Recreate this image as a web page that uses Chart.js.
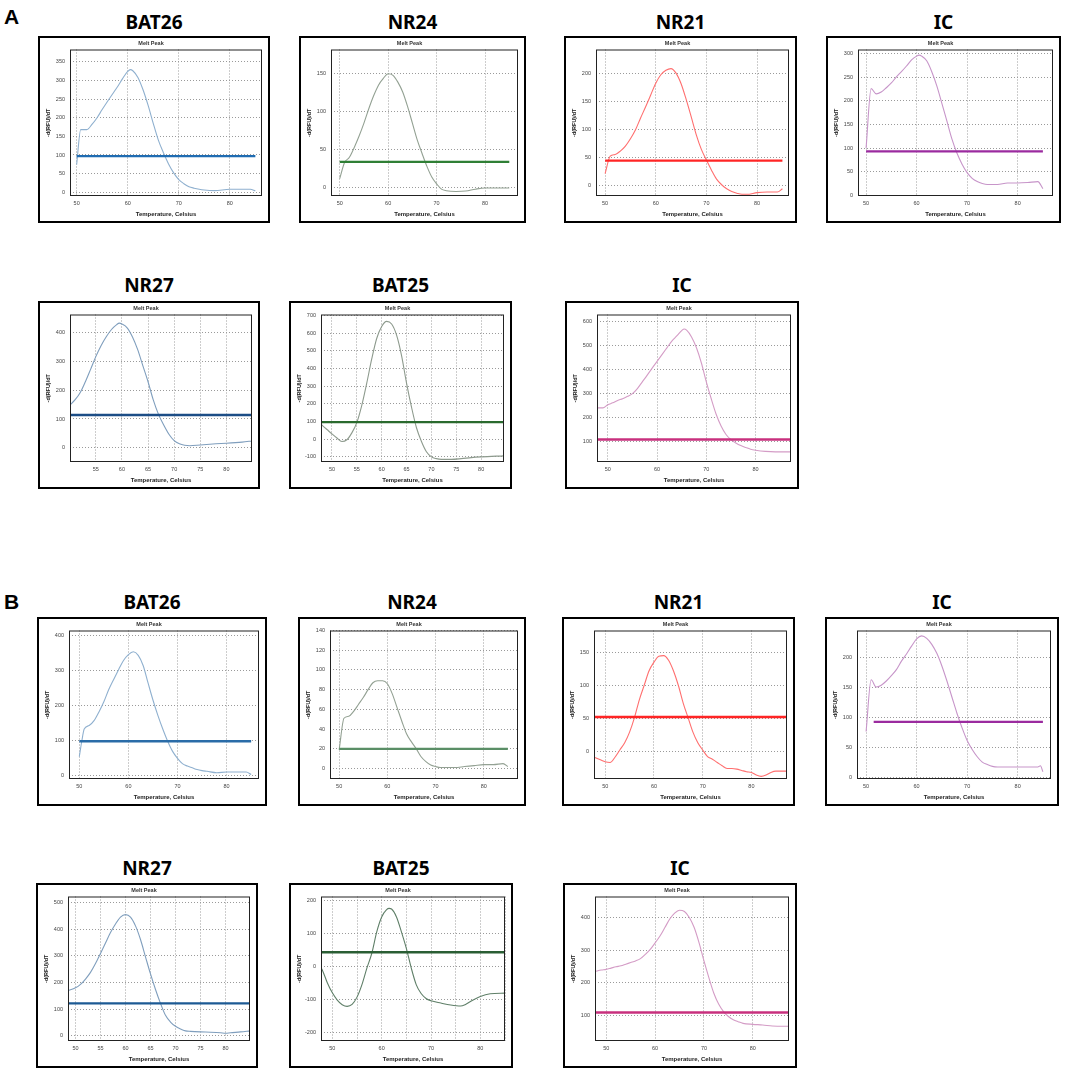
<!DOCTYPE html>
<html>
<head>
<meta charset="utf-8">
<script src="https://cdn.jsdelivr.net/npm/chart.js@4.4.1/dist/chart.umd.min.js"></script>
<style>
body { margin: 0; background: #fff; width: 1065px; height: 1075px; position: relative; overflow: hidden; }
.letra { position: absolute; font: bold 21px "Liberation Sans", Arial, sans-serif; line-height: 1; }
.titulo { position: absolute; font: bold 19px "Noto Sans", sans-serif; line-height: 1; transform: translate(-50%, -50%); white-space: nowrap; }
.caja { position: absolute; border: 2px solid #000; box-sizing: border-box; background: #fff; }
.caja canvas { display: block; }
</style>
</head>
<body>
<div class="letra" style="left:4px;top:6px">A</div>
<div class="letra" style="left:4px;top:591px">B</div>
<script>
// A - fila 1
const aBat26T = [50, 50.8, 52, 53, 54, 55, 56, 57, 58, 59, 60, 60.5, 61, 62, 63, 64, 65, 66, 67, 68, 69, 70, 71, 72, 73, 74, 75, 77, 80, 84, 85];
const aBat26V = [74, 168, 168, 182, 200, 222, 243, 263, 283, 305, 324, 329, 326, 308, 275, 233, 185, 140, 106, 76, 52, 34, 23, 15, 11, 8, 6, 4.5, 8, 8, 4];
const aBat26Umbral = 97;

const aNr24T = [50, 51, 52, 53, 54, 55, 56, 57, 58, 59, 60, 61, 62, 63, 64, 65, 66, 67, 68, 69, 70, 71, 72, 74, 76, 78, 80, 85];
const aNr24V = [12, 33, 40, 53, 68, 85, 104, 121, 135, 144, 150, 148, 139, 126, 107, 85, 63, 45, 28, 14, 5, -2, -4, -5, -4.5, -2, -0.5, -0.5];
const aNr24Umbral = 34;

const aNr21T = [50, 51, 52, 53, 54, 55, 56, 57, 58, 59, 60, 61, 62, 63, 64, 65, 66, 67, 68, 69, 70, 71, 72, 73, 74, 75, 76, 77, 78, 80, 82, 84, 85];
const aNr21V = [21, 52, 55, 61, 70, 83, 99, 120, 140, 161, 182, 197, 205, 208, 200, 181, 153, 122, 90, 64, 45, 27, 11, 1, -6, -11, -14, -16, -16, -13, -12, -12, -6];
const aNr21Umbral = 44;

const aIc1T = [50, 51, 52, 53, 54, 55, 56, 57, 58, 59, 60, 60.5, 61, 62, 63, 64, 65, 66, 67, 68, 69, 70, 71, 72, 73, 74, 76, 78, 80, 82, 84, 85];
const aIc1V = [100, 226, 215, 219, 228, 238, 251, 262, 274, 287, 295, 297, 295, 285, 262, 232, 195, 157, 119, 89, 66, 48, 36, 29, 25, 23, 23, 26, 26, 27, 29, 14];
const aIc1Umbral = 93;

// A - fila 2
const aNr27T = [50, 51, 52, 53, 54, 55, 56, 57, 58, 59, 59.5, 60, 61, 62, 63, 64, 65, 66, 67, 68, 69, 70, 71, 72, 73, 75, 78, 80, 83, 85];
const aNr27V = [147, 166, 191, 229, 272, 316, 354, 385, 410, 427, 432, 429, 416, 385, 341, 285, 229, 166, 116, 79, 47, 25, 14, 9, 7.5, 10, 14, 16, 20, 24];
const aNr27Umbral = 114;

const aBat25T = [47.8, 49, 50, 51, 52, 53, 54, 55, 56, 57, 58, 59, 60, 61, 62, 63, 64, 65, 66, 67, 68, 69, 70, 71, 72, 74, 76, 78, 80, 84.6];
const aBat25V = [84, 54, 29, 6, -14, -4, 35, 93, 191, 317, 454, 570, 638, 667, 652, 589, 473, 317, 181, 64, -14, -72, -101, -111, -115, -115, -111, -105, -101, -95];
const aBat25Umbral = 96;

const aIc2T = [47.8, 49, 50, 51, 52, 53, 54, 55, 56, 57, 58, 59, 60, 61, 62, 63, 64, 65, 65.5, 66, 67, 68, 69, 70, 71, 72, 73, 74, 75, 76, 77, 78, 79, 80, 82, 84, 87.2];
const aIc2V = [241, 241, 254, 262, 272, 279, 289, 300, 321, 349, 377, 406, 434, 462, 490, 518, 539, 561, 568, 563, 535, 490, 427, 349, 279, 215, 166, 131, 110, 96, 85, 77, 70, 66, 61, 59, 59];
const aIc2Umbral = 110;

// B - fila 1
const bBat26T = [50, 50.5, 51, 52, 53, 54, 55, 56, 57, 58, 59, 60, 61, 62, 63, 64, 65, 66, 67, 68, 69, 70, 71, 72, 73, 74, 75, 76, 78, 80, 82, 84, 85];
const bBat26V = [54, 98, 133, 143, 157, 182, 211, 246, 275, 303, 329, 346, 354, 344, 315, 265, 216, 172, 133, 98, 69, 49, 34, 27, 22, 17, 14, 12, 8, 10, 10, 10, 3];
const bBat26Umbral = 98;

const bNr24T = [50, 51, 52, 53, 54, 55, 56, 57, 58, 59, 60, 61, 62, 63, 64, 65, 66, 67, 68, 69, 70, 71, 72, 74, 76, 78, 80, 82, 84, 85];
const bNr24V = [19, 51, 53, 58, 65, 72, 80, 87, 89, 89, 86, 76, 62, 48, 35, 27, 20, 12, 7, 3.5, 2, 1, 1, 1, 2, 3, 4, 4, 5, 2];
const bNr24Umbral = 20;

const bNr21T = [47.7, 49, 50, 51, 52, 53, 54, 55, 56, 57, 58, 59, 60, 61, 62, 63, 64, 65, 66, 67, 68, 69, 70, 71, 72, 73, 74, 75, 76, 77, 78, 79, 80, 81, 82, 83, 84, 85, 87.3];
const bNr21V = [-8, -12, -15, -16, -8, 3, 14, 30, 52, 79, 101, 123, 136, 145, 146, 139, 123, 101, 74, 52, 30, 14, 3, -7, -11, -16, -21, -25, -25, -26, -28, -30, -31, -35, -37, -35, -31, -29, -29];
const bNr21Umbral = 53;

const bIc1T = [50, 51, 52, 53, 54, 55, 56, 57, 58, 59, 60, 61, 62, 63, 64, 65, 66, 67, 68, 69, 70, 71, 72, 73, 74, 75, 76, 80, 84, 84.5, 85];
const bIc1V = [77, 163, 151, 154, 161, 170, 180, 194, 206, 219, 231, 236, 232, 222, 207, 186, 161, 134, 107, 83, 62, 47, 35, 26, 22, 19, 18, 18, 18, 20, 10];
const bIc1Umbral = 93;

// B - fila 2
const bNr27T = [48.5, 50, 51, 52, 53, 54, 55, 56, 57, 58, 59, 60, 61, 62, 63, 64, 65, 66, 67, 68, 69, 70, 71, 72, 73, 75, 77, 79, 80, 81, 83, 84.9];
const bNr27V = [170, 180, 193, 213, 238, 271, 309, 348, 387, 419, 445, 454, 445, 412, 361, 296, 232, 174, 122, 77, 52, 36, 26, 19, 17, 15, 14, 12, 10, 12, 15, 19];
const bNr27Umbral = 122;

const bBat25T = [47.7, 48, 49, 50, 51, 52, 53, 54, 55, 56, 57, 58, 59, 60, 61, 61.5, 62, 63, 64, 65, 66, 67, 68, 69, 70, 72, 74, 76, 77, 78, 80, 82, 85];
const bBat25V = [-4, -12, -50, -80, -102, -116, -121, -115, -93, -55, -5, 40, 105, 150, 172, 176, 174, 150, 105, 55, -5, -55, -82, -97, -104, -111, -117, -120, -115, -106, -91, -83, -81];
const bBat25Umbral = 43;

const bIc2T = [47.7, 49, 50, 51, 52, 53, 54, 55, 56, 57, 58, 59, 60, 61, 62, 63, 64, 65, 66, 67, 68, 69, 70, 71, 72, 73, 74, 75, 76, 77, 78, 80, 82, 84, 86, 87.4];
const bIc2V = [235, 239, 241, 245, 249, 252, 257, 262, 267, 274, 287, 302, 322, 343, 369, 395, 413, 422, 418, 400, 369, 322, 267, 216, 169, 135, 112, 97, 87, 81, 76, 73, 71, 68, 67, 67];
const bIc2Umbral = 109;

// ejes: [min, max, paso]; xEtiq = etiquetas solo cada tantos grados
const graficas = [
  { nombre: 'BAT26', t: aBat26T, v: aBat26V, umbral: aBat26Umbral, desde: 50, hasta: 85, x: [48.7, 86.3, 10], y: [-10, 383, 50], curva: '#8fb0cf', linea: '#1f6cb2', caja: [38, 36, 232, 187], ty: 22 },
  { nombre: 'NR24', t: aNr24T, v: aNr24V, umbral: aNr24Umbral, desde: 50, hasta: 85, x: [48.2, 86.8, 10], y: [-11, 182, 50], curva: '#93a193', linea: '#2f7f35', caja: [299, 36, 227, 187], ty: 22 },
  { nombre: 'NR21', t: aNr21T, v: aNr21V, umbral: aNr21Umbral, desde: 50, hasta: 85, x: [48.2, 86.3, 10], y: [-19, 242, 50], curva: '#ff6f6f', linea: '#ff2525', caja: [564, 36, 233, 187], ty: 22 },
  { nombre: 'IC', t: aIc1T, v: aIc1V, umbral: aIc1Umbral, desde: 50, hasta: 85, x: [48.4, 87, 10], y: [-1.5, 309, 50], curva: '#c795c9', linea: '#9b2b9f', caja: [826, 36, 235, 187], ty: 22 },
  { nombre: 'NR27', t: aNr27T, v: aNr27V, umbral: aNr27Umbral, desde: 50, hasta: 84.9, x: [50.06, 84.9, 5], y: [-49, 462, 100], curva: '#7f9ebd', linea: '#1c4d86', caja: [38, 301, 222, 188], ty: 285 },
  { nombre: 'BAT25', t: aBat25T, v: aBat25V, umbral: aBat25Umbral, desde: 47.8, hasta: 84.6, x: [47.8, 84.6, 5], y: [-130, 706, 100], curva: '#8d9a8d', linea: '#2a6a2e', caja: [289, 301, 223, 188], ty: 285 },
  { nombre: 'IC', t: aIc2T, v: aIc2V, umbral: aIc2Umbral, desde: 47.8, hasta: 87.2, x: [47.8, 87.2, 10], y: [17, 628, 100], curva: '#d49cc6', linea: '#c8307e', caja: [565, 301, 234, 188], ty: 285 },
  { nombre: 'BAT26', t: bBat26T, v: bBat26V, umbral: bBat26Umbral, desde: 50, hasta: 85, x: [47.9, 86.6, 10], y: [-10, 415, 100], curva: '#8fb0cf', linea: '#2a6ca8', caja: [37, 617, 230, 189], ty: 602 },
  { nombre: 'NR24', t: bNr24T, v: bNr24V, umbral: bNr24Umbral, desde: 50, hasta: 85, x: [48.1, 87.1, 10], y: [-10.6, 140, 20], curva: '#93a193', linea: '#5a8e66', caja: [298, 617, 228, 189], ty: 602 },
  { nombre: 'NR21', t: bNr21T, v: bNr21V, umbral: bNr21Umbral, desde: 47.7, hasta: 87.3, x: [47.7, 87.3, 10], y: [-41, 184, 50], curva: '#ff6f6f', linea: '#ff2525', caja: [562, 617, 233, 189], ty: 602 },
  { nombre: 'IC', t: bIc1T, v: bIc1V, umbral: bIc1Umbral, desde: 51.5, hasta: 85, x: [48.2, 86.6, 10], y: [-2, 245, 50], curva: '#c795c9', linea: '#9b2b9f', caja: [825, 617, 234, 189], ty: 602 },
  { nombre: 'NR27', t: bNr27T, v: bNr27V, umbral: bNr27Umbral, desde: 48.5, hasta: 84.9, x: [48.5, 84.9, 5], y: [-19, 522, 100], curva: '#7f9ebd', linea: '#1c5a94', caja: [36, 883, 222, 185], ty: 868 },
  { nombre: 'BAT25', t: bBat25T, v: bBat25V, umbral: bBat25Umbral, desde: 47.7, hasta: 85, x: [47.7, 85, 5], y: [-226, 212, 100], curva: '#5f7f68', linea: '#2a5e34', caja: [289, 883, 224, 185], ty: 868, xEtiq: 10 },
  { nombre: 'IC', t: bIc2T, v: bIc2V, umbral: bIc2Umbral, desde: 47.7, hasta: 87.4, x: [47.7, 87.4, 10], y: [22, 464, 100], curva: '#d49cc6', linea: '#c8307e', caja: [563, 883, 234, 185], ty: 868 }
];

Chart.defaults.font.family = '"Liberation Sans", Arial, sans-serif';

// marco negro alrededor del area de datos
const marco = {
  id: 'marco',
  afterDraw(chart) {
    const a = chart.chartArea, ctx = chart.ctx;
    ctx.save();
    ctx.strokeStyle = '#222';
    ctx.lineWidth = 1;
    ctx.strokeRect(a.left + 0.5, a.top + 0.5, a.right - a.left - 1, a.bottom - a.top - 1);
    ctx.restore();
  }
};

function dibujar(g) {
  const [l, t, w, h] = g.caja;
  const tit = document.createElement('div');
  tit.className = 'titulo';
  tit.textContent = g.nombre;
  tit.style.left = (l + w / 2) + 'px';
  tit.style.top = g.ty + 'px';
  document.body.appendChild(tit);

  const caja = document.createElement('div');
  caja.className = 'caja';
  caja.style.cssText = `left:${l}px;top:${t}px;width:${w}px;height:${h}px`;
  const cv = document.createElement('canvas');
  cv.width = w - 4;
  cv.height = h - 4;
  caja.appendChild(cv);
  document.body.appendChild(caja);

  const fuenteTick = { size: 5.5 };
  new Chart(cv.getContext('2d'), {
    type: 'line',
    data: {
      datasets: [
        { data: [{ x: g.desde, y: g.umbral }, { x: g.hasta, y: g.umbral }], borderColor: g.linea, borderWidth: 2.4, pointRadius: 0 },
        { data: g.t.map((x, i) => ({ x: x, y: g.v[i] })), borderColor: g.curva, borderWidth: 1.1, pointRadius: 0, cubicInterpolationMode: 'monotone' }
      ]
    },
    options: {
      responsive: false,
      animation: false,
      events: [],
      layout: { padding: { right: 6 } },
      plugins: {
        legend: { display: false },
        tooltip: { enabled: false },
        title: { display: true, text: 'Melt Peak', color: '#333', font: { size: 5.5, weight: 'bold' }, padding: { top: 2.5, bottom: 2.4 } }
      },
      scales: {
        x: {
          type: 'linear', min: g.x[0], max: g.x[1],
          ticks: { stepSize: g.x[2], includeBounds: false, autoSkip: false, maxRotation: 0, font: fuenteTick, color: '#444', padding: 4,
            callback: v => (g.xEtiq && v % g.xEtiq) ? '' : v },
          grid: { color: '#9a9a9a', drawTicks: false },
          border: { display: false, dash: [1, 2] },
          title: { display: true, text: 'Temperature, Celsius', color: '#222', font: { size: 6, weight: 'bold' }, padding: { top: 0, bottom: 3.4 } },
          afterFit: s => { s.height = 25; }
        },
        y: {
          min: g.y[0], max: g.y[1],
          ticks: { stepSize: g.y[2], includeBounds: false, font: fuenteTick, color: '#444', padding: 5 },
          grid: { color: '#9a9a9a', drawTicks: false },
          border: { display: false, dash: [1, 2] },
          title: { display: true, text: '-d(RFU)/dT', color: '#222', font: { size: 5.5, weight: 'bold' }, padding: { top: 4.7, bottom: 0 } },
          afterFit: s => { s.width = 30; }
        }
      }
    },
    plugins: [marco]
  });
}

graficas.forEach(dibujar);
</script>
</body>
</html>
